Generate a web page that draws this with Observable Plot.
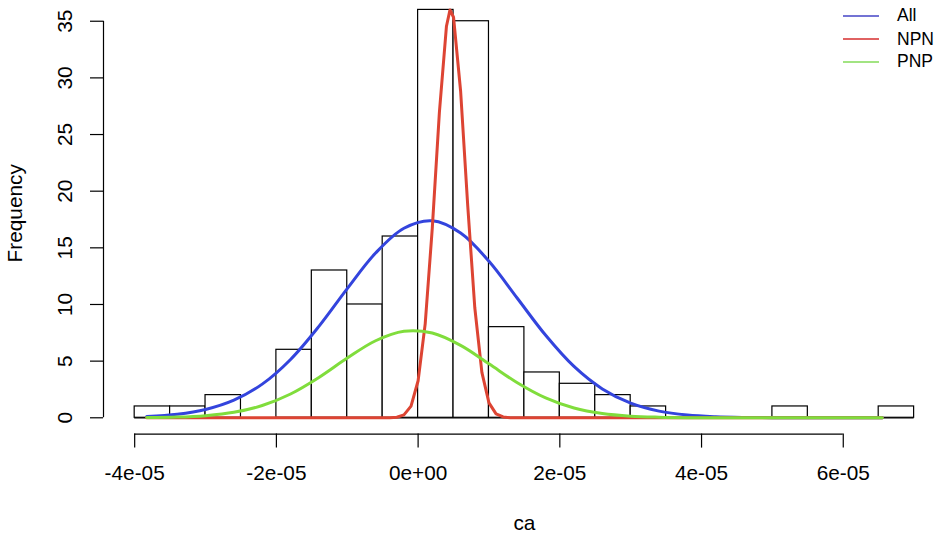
<!DOCTYPE html>
<html><head><meta charset="utf-8">
<script src="https://cdn.jsdelivr.net/npm/d3@7"></script>
<script src="https://cdn.jsdelivr.net/npm/@observablehq/plot@0.6"></script>
<style>
body{margin:0;background:#fff;}
#wrap{position:relative;width:949px;height:539px;font-family:"Liberation Sans",Arial,sans-serif;}
.leg{position:absolute;left:843px;width:36px;height:0;border-top:2px solid;}
.legt{position:absolute;left:897px;font-size:17.5px;line-height:20px;color:#000;white-space:nowrap;}
</style></head><body><div id="wrap"></div>
<script>
// x values are in units of 1e-5 (variable "ca")
const X_UNIT = 1e-5;
const binLeft = [-4.0,-3.5,-3.0,-2.5,-2.0,-1.5,-1.0,-0.5,0.0,0.5,1.0,1.5,2.0,2.5,3.0,3.5,4.0,4.5,5.0,5.5,6.0,6.5];
const binWidth = 0.5;
const counts  = [1,1,2,0,6,13,10,16,36,35,8,4,3,2,1,0,0,0,1,0,0,1];

const xTicks = [-4,-2,0,2,4,6];
const xTickLabels = ["-4e-05","-2e-05","0e+00","2e-05","4e-05","6e-05"];
const yTicks = [0,5,10,15,20,25,30,35];

// normal curves
const curveX = [-3.83,-3.4,-3.0,-2.6,-2.2,-1.8,-1.4,-1.0,-0.6,-0.2,0.2,0.6,1.0,1.4,1.8,2.2,2.6,3.0,3.4,3.8,4.2,4.6,5.0,5.4,5.8,6.2,6.55];
const allY = [0.11,0.31,0.73,1.55,2.97,5.15,8.07,11.40,14.54,16.73,17.39,16.31,13.81,10.55,7.28,4.53,2.55,1.29,0.59,0.24,0.09,0.03,0.01,0,0,0,0];
const pnpY = [0.02,0.06,0.19,0.48,1.08,2.10,3.56,5.27,6.80,7.64,7.48,6.39,4.76,3.09,1.75,0.86,0.37,0.14,0.05,0.01,0,0,0,0,0,0,0];
const npnX = [-3.83,-0.6,-0.4,-0.3,-0.2,-0.1,0.0,0.1,0.2,0.3,0.4,0.45,0.5,0.6,0.7,0.8,0.9,1.0,1.1,1.2,1.3,1.4,6.55];
const npnY = [0,0,0.01,0.05,0.26,1.03,3.27,8.29,16.73,26.93,34.56,36.0,35.35,28.82,18.74,9.71,4.01,1.32,0.35,0.07,0.01,0,0];

const seriesNames = ["All","NPN","PNP"];
const seriesColors = ["#3344dd","#dd4433","#80dd3c"];
const legendColors = ["#7373d4","#e06262","#a2e482"];

const xDomain = [-4.44, 7.44];
const yDomain = [-1.44, 36.83];

const bins = binLeft.map((b,i)=>({x1:b*X_UNIT, x2:(b+binWidth)*X_UNIT, count:counts[i]}));
const toPts = (xs, ys) => xs.map((x,i)=>({x:x*X_UNIT, y:ys[i]}));
const allPts = toPts(curveX, allY);
const npnPts = toPts(npnX, npnY);
const pnpPts = toPts(curveX, pnpY);
const xt = xTicks.map(d=>d*X_UNIT);

const FS = 20.8;
const chart = Plot.plot({
  width: 949, height: 539,
  marginLeft: 103, marginRight: 4.2, marginTop: 0, marginBottom: 105.4,
  x: {domain: xDomain.map(d=>d*X_UNIT), nice:false},
  y: {domain: yDomain, nice:false},
  style: {fontFamily: '"Liberation Sans", Arial, sans-serif', color: "black", background: "white", overflow: "visible"},
  marks: [
    Plot.ruleY([0], {x1: binLeft[0]*X_UNIT, x2: (binLeft[binLeft.length-1]+binWidth)*X_UNIT, stroke:"black", strokeWidth:1.2}),
    Plot.rect(bins.filter(d=>d.count>0), {x1:"x1", x2:"x2", y1:()=>0, y2:"count", fill:"white", stroke:"black", strokeWidth:1.2}),
    Plot.line(allPts, {x:"x", y:"y", stroke: seriesColors[0], strokeWidth:3, curve:"catmull-rom"}),
    Plot.line(npnPts, {x:"x", y:"y", stroke: seriesColors[1], strokeWidth:3}),
    Plot.line(pnpPts, {x:"x", y:"y", stroke: seriesColors[2], strokeWidth:3, curve:"catmull-rom"}),
    // x axis
    Plot.ruleY([yDomain[0]], {x1: xt[0], x2: xt[xt.length-1], stroke:"black", strokeWidth:1.2}),
    Plot.axisX({ticks: xt, tickSize: 14, tickPadding: 17, fontSize: FS, label: null,
      tickFormat: d => xTickLabels[xt.indexOf(d)], strokeWidth: 1.2}),
    // y axis
    Plot.ruleX([xDomain[0]*X_UNIT], {y1: yTicks[0], y2: yTicks[yTicks.length-1], stroke:"black", strokeWidth:1.2}),
    Plot.axisY({ticks: yTicks, tickSize: 13, tickFormat: () => "", label: null, strokeWidth: 1.2}),
    Plot.text(yTicks, {y: d=>d, text: d=>String(d), frameAnchor:"left", dx:-38, rotate:-90,
      textAnchor:"middle", lineAnchor:"middle", fontSize: FS, fill:"black"}),
    Plot.text(["Frequency"], {text: d=>d, frameAnchor:"left", dx:-88, dy:-4, rotate:-90,
      textAnchor:"middle", lineAnchor:"middle", fontSize: FS, fill:"black"}),
    Plot.text(["ca"], {text: d=>d, frameAnchor:"bottom", dy:89, textAnchor:"middle",
      lineAnchor:"middle", fontSize: FS, fill:"black"})
  ]
});
const wrap = document.getElementById("wrap");
wrap.appendChild(chart);

const legLineY = [16, 39, 62];
const legTextY = [15, 38.8, 61.3];
seriesNames.forEach((name,i)=>{
  const l = document.createElement("div");
  l.className = "leg";
  l.style.top = (legLineY[i]-1) + "px";
  l.style.borderTopColor = legendColors[i];
  wrap.appendChild(l);
  const t = document.createElement("div");
  t.className = "legt";
  t.style.top = (legTextY[i]-9.85) + "px";
  t.textContent = name;
  wrap.appendChild(t);
});
</script></body></html>
